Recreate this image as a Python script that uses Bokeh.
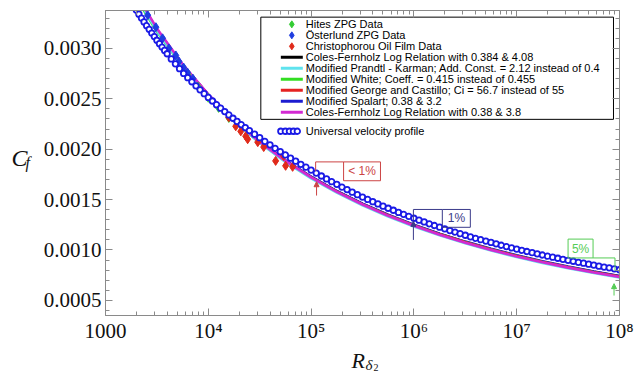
from bokeh.plotting import figure
from bokeh.layouts import row, column
from bokeh.models import (Range1d, FixedTicker, LogAxis, LinearAxis,
                          Label, Arrow, NormalHead, CustomJSTickFormatter, NumeralTickFormatter)
from bokeh.core.properties import value
from bokeh.embed import file_html
from bokeh.resources import INLINE

# ---------------- data ----------------
X_TICKS = [1000, 10000, 100000, 1000000, 10000000, 100000000]
X_TICK_LABELS = ["1000", "10\u2074", "10\u2075", "10\u2076", "10\u2077", "10\u2078"]
Y_TICKS = [0.0005, 0.0010, 0.0015, 0.0020, 0.0025, 0.0030]

# correlation curves, log10(R_delta2) and Cf
LINE_LOG_RE = [3.0, 3.25, 3.5, 3.75, 4.0, 4.25, 4.5, 4.75, 5.0, 5.25, 5.5, 5.75,
               6.0, 6.25, 6.5, 6.75, 7.0, 7.25, 7.5, 7.75, 8.0]
CF_COLES_384 = [0.004107, 0.003601, 0.003183, 0.002834, 0.002539, 0.002288, 0.002073, 0.001886,
                0.001724, 0.001582, 0.001456, 0.001345, 0.001246, 0.001158, 0.001079, 0.001008,
                0.000943, 0.000884, 0.000831, 0.000783, 0.000738]
CF_PRANDTL = [0.004110, 0.003598, 0.003176, 0.002825, 0.002529, 0.002277, 0.002061, 0.001874,
              0.001711, 0.001569, 0.001443, 0.001332, 0.001233, 0.001145, 0.001066, 0.000995,
              0.000930, 0.000872, 0.000819, 0.000771, 0.000727]
CF_WHITE = [0.004080, 0.003580, 0.003168, 0.002822, 0.002528, 0.002279, 0.002066, 0.001880,
            0.001719, 0.001578, 0.001453, 0.001342, 0.001243, 0.001155, 0.001076, 0.001005,
            0.000940, 0.000881, 0.000828, 0.000780, 0.000735]
CF_GEORGE = [0.004120, 0.003610, 0.003188, 0.002836, 0.002539, 0.002287, 0.002071, 0.001884,
             0.001721, 0.001579, 0.001453, 0.001342, 0.001243, 0.001155, 0.001076, 0.001005,
             0.000940, 0.000881, 0.000828, 0.000780, 0.000736]
CF_SPALART = [0.004100, 0.003598, 0.003182, 0.002834, 0.002540, 0.002289, 0.002075, 0.001889,
              0.001727, 0.001585, 0.001460, 0.001349, 0.001250, 0.001162, 0.001083, 0.001012,
              0.000947, 0.000888, 0.000835, 0.000787, 0.000742]
CF_COLES_38 = [0.004141, 0.003624, 0.003198, 0.002843, 0.002544, 0.002290, 0.002072, 0.001884,
               0.001720, 0.001577, 0.001451, 0.001339, 0.001240, 0.001152, 0.001072, 0.001001,
               0.000936, 0.000878, 0.000825, 0.000776, 0.000732]

# universal velocity profile (open circles)
UVP_LOG_RE = [3.200, 3.225, 3.250, 3.275, 3.300, 3.325, 3.350, 3.375, 3.400, 3.425, 3.450, 3.475,
              3.500, 3.525, 3.550, 3.575, 3.600,
              3.64, 3.68, 3.72, 3.76, 3.80, 3.84, 3.88, 3.92, 3.96, 4.00, 4.04, 4.08, 4.12, 4.16,
              4.20, 4.24, 4.28, 4.32, 4.36, 4.40,
              4.45, 4.50, 4.55, 4.60, 4.65, 4.70, 4.75, 4.80, 4.85, 4.90, 4.95,
              5.00, 5.05, 5.10, 5.15, 5.20, 5.25, 5.30, 5.35, 5.40, 5.45, 5.50, 5.55, 5.60, 5.65,
              5.70, 5.75, 5.80, 5.85, 5.90, 5.95,
              6.00, 6.05, 6.10, 6.15, 6.20, 6.25, 6.30, 6.35, 6.40, 6.45, 6.50, 6.55, 6.60, 6.65,
              6.70, 6.75, 6.80, 6.85, 6.90, 6.95,
              7.00, 7.05, 7.10, 7.15, 7.20, 7.25, 7.30, 7.35, 7.40, 7.45, 7.50, 7.55, 7.60, 7.65,
              7.70, 7.75, 7.80, 7.85, 7.90, 7.95, 8.00]
UVP_CF = [0.003546, 0.003503, 0.003462, 0.003420, 0.003380, 0.003340, 0.003301, 0.003263, 0.003225,
          0.003189, 0.003152, 0.003117, 0.003081, 0.003047, 0.003013, 0.002980, 0.002947,
          0.002896, 0.002847, 0.002799, 0.002752, 0.002710, 0.002669, 0.002629, 0.002589, 0.002551,
          0.002514, 0.002478, 0.002442, 0.002407, 0.002373, 0.002340, 0.002307, 0.002275, 0.002244,
          0.002214, 0.002185,
          0.002149, 0.002114, 0.002078, 0.002043, 0.002009, 0.001975, 0.001943, 0.001911, 0.001881,
          0.001850, 0.001822,
          0.001793, 0.001763, 0.001734, 0.001705, 0.001678, 0.001651, 0.001624, 0.001599, 0.001574,
          0.001549, 0.001525, 0.001502, 0.001479, 0.001457, 0.001435, 0.001414, 0.001394, 0.001373,
          0.001354, 0.001334,
          0.001315, 0.001296, 0.001278, 0.001260, 0.001243, 0.001226, 0.001210, 0.001193, 0.001178,
          0.001162, 0.001146, 0.001131, 0.001116, 0.001102, 0.001088, 0.001075, 0.001061, 0.001047,
          0.001034, 0.001021,
          0.001009, 0.000997, 0.000985, 0.000973, 0.000962, 0.000950, 0.000939, 0.000929, 0.000918,
          0.000907, 0.000897, 0.000888, 0.000878, 0.000869, 0.000859, 0.000850, 0.000839, 0.000830,
          0.000823, 0.000813, 0.000804]

# measurements
HITES_RE = [6310, 7940, 10000, 12590, 15850]
HITES_CF = [0.00274, 0.00262, 0.00251, 0.00241, 0.00231]
OST_RE = [2570, 3090, 3590, 4140, 4830, 5180, 5750, 6280, 7080]
OST_CF = [0.00333, 0.00321, 0.00310, 0.00300, 0.00293, 0.00287, 0.00281, 0.00276, 0.00270]
CHRIS_RE = [15810, 18490, 20700, 23120, 24150, 30270, 34590, 45190, 54080, 56490, 66070]
CHRIS_CF = [0.002316, 0.002227, 0.002177, 0.002129, 0.002099, 0.002070, 0.002021, 0.001884,
            0.001933, 0.001835, 0.001825]

LEGEND_LABELS = ["Hites ZPG Data", "\u00d6sterlund ZPG Data", "Christophorou Oil Film Data",
                 "Coles-Fernholz Log Relation with 0.384 & 4.08",
                 "Modified Prandtl - Karman; Add. Const. = 2.12 instead of 0.4",
                 "Modified White; Coeff. = 0.415 instead of 0.455",
                 "Modified George and Castillo; Ci = 56.7 instead of 55",
                 "Modified Spalart; 0.38 & 3.2",
                 "Coles-Fernholz Log Relation with 0.38 & 3.8"]

# ---------------- styles ----------------
GRAY = "#8a8a8a"
INK = "#111111"
C_BLACK, C_CYAN, C_GREEN = "black", "#5fe3ee", "#33dd22"
C_RED, C_BLUE, C_MAG = "#e52222", "#1c1cd0", "#d22ad2"
C_HITES, C_OST, C_CHRIS = "#33cc33", "#1f3de0", "#e02a1a"
C_UVP = "#1a1ae6"

# ---------------- main figure ----------------
p = figure(width=594, height=345, x_axis_type="log",
           x_range=Range1d(1000, 1e8), y_range=Range1d(0.00035, 0.003376),
           output_backend="svg", toolbar_location=None, title=None,
           min_border_left=64, min_border_right=15, min_border_top=10, min_border_bottom=27)
p.xgrid.visible = False
p.ygrid.visible = False
p.outline_line_color = GRAY
p.background_fill_color = "white"
p.border_fill_color = "white"

x_minor = [m * 10 ** e for e in range(3, 8) for m in range(2, 10)]
y_minor = [i / 10000 for i in range(4, 34)]
xt = FixedTicker(ticks=X_TICKS, minor_ticks=x_minor)
yt = FixedTicker(ticks=Y_TICKS, minor_ticks=y_minor)


def style_axis(ax):
    ax.axis_line_color = GRAY
    ax.major_tick_line_color = GRAY
    ax.minor_tick_line_color = GRAY
    ax.major_tick_in = 7
    ax.major_tick_out = 0
    ax.minor_tick_in = 4
    ax.minor_tick_out = 0
    ax.major_label_text_font = "Liberation Serif"
    ax.major_label_text_font_size = "21px"
    ax.major_label_text_color = INK


xa = p.xaxis[0]
xa.ticker = xt
style_axis(xa)
xa.major_label_overrides = dict(zip(X_TICKS, X_TICK_LABELS))
xa.major_label_standoff = 3

ya = p.yaxis[0]
ya.ticker = yt
ya.formatter = NumeralTickFormatter(format="0.0000")
style_axis(ya)
ya.major_label_standoff = 4

blank = CustomJSTickFormatter(code="return ''")
top_ax = LogAxis(ticker=xt, formatter=blank, major_label_standoff=0)
style_axis(top_ax)
p.add_layout(top_ax, "above")
right_ax = LinearAxis(ticker=yt, formatter=blank, major_label_standoff=0)
style_axis(right_ax)
p.add_layout(right_ax, "right")

# legend frame
p.quad(left=32430, right=8.74e7, top=0.003310, bottom=0.002296,
       fill_color="white", line_color="black", line_width=1)

line_re = [10 ** v for v in LINE_LOG_RE]
uvp_re = [10 ** v for v in UVP_LOG_RE]

LW = 2.6
p.line(line_re, CF_COLES_384, line_color=C_BLACK, line_width=LW)
p.line(line_re, CF_SPALART, line_color=C_BLUE, line_width=LW)
p.line(line_re, CF_WHITE, line_color=C_GREEN, line_width=LW)
p.line(line_re, CF_GEORGE, line_color=C_RED, line_width=LW)
p.line(line_re, CF_PRANDTL, line_color=C_CYAN, line_width=LW)
p.line(line_re, CF_COLES_38, line_color=C_MAG, line_width=LW)

p.scatter(HITES_RE, HITES_CF, marker="diamond", size=9, color=C_HITES)
p.scatter(OST_RE, OST_CF, marker="diamond", size=9, color=C_OST)
p.scatter(CHRIS_RE, CHRIS_CF, marker="diamond", size=9, color=C_CHRIS)

p.scatter(uvp_re, UVP_CF, marker="circle", size=5.5, fill_color="white",
          line_color=C_UVP, line_width=1.8)

# ---- legend (drawn by hand so that its rows match the original spacing) ----
LEG_ROW_Y = [0.0032387, 0.0031297, 0.0030206, 0.0029116, 0.0028025,
             0.0026935, 0.0025844, 0.0024753, 0.0023663]
LEG_GLYPH_X0, LEG_GLYPH_X1, LEG_MARK_X, LEG_TEXT_X = 50770, 83060, 64920, 88830
leg_kinds = [("diamond", C_HITES), ("diamond", C_OST), ("diamond", C_CHRIS),
             ("line", C_BLACK), ("line", C_CYAN), ("line", C_GREEN),
             ("line", C_RED), ("line", C_BLUE), ("line", C_MAG)]
for (kind, col), lab, yy in zip(leg_kinds, LEGEND_LABELS, LEG_ROW_Y):
    if kind == "line":
        p.line([LEG_GLYPH_X0, LEG_GLYPH_X1], [yy, yy], line_color=col, line_width=3)
    else:
        p.scatter([LEG_MARK_X], [yy], marker="diamond", size=7, color=col)
    p.add_layout(Label(x=LEG_TEXT_X, y=yy, text=lab, text_font="Liberation Sans",
                       text_font_size="11px", text_baseline="middle", text_color="black"))

# "Universal velocity profile" entry (outside the box)
p.scatter([50770, 56150, 61540, 67300, 73450, 80000][:5], [0.002178] * 5, marker="circle",
          size=5.5, fill_color="white", line_color=C_UVP, line_width=1.8)
p.add_layout(Label(x=LEG_TEXT_X, y=0.002178, text="Universal velocity profile",
                   text_font="Liberation Sans", text_font_size="11px",
                   text_baseline="middle", text_color="black"))


# percentage call-outs
def callout(xs_poly, ys_poly, box, text, tx, ty, arrow, color):
    p.line(xs_poly, ys_poly, line_color=color, line_width=1)
    l, r, t, b = box
    p.line([l, r, r, l, l], [t, t, b, b, t], line_color=color, line_width=1)
    p.add_layout(Label(x=tx, y=ty, text=text, text_font="Liberation Sans",
                       text_font_size="12px", text_color=color,
                       text_align="center", text_baseline="middle"))
    ax0, ay0, ax1, ay1 = arrow
    p.add_layout(Arrow(end=NormalHead(size=5, fill_color=color, line_color=color),
                       x_start=ax0, y_start=ay0, x_end=ax1, y_end=ay1,
                       line_color=color, line_width=1))


callout([1.107e5, 1.107e5, 2.07e5], [0.001785, 0.001874, 0.001874],
        (2.07e5, 4.73e5, 0.001874, 0.001687), "< 1%", 3.13e5, 0.00178,
        (1.13e5, 0.00154, 1.13e5, 0.001677), "#cc4444")
callout([9.89e5, 9.89e5, 1.89e6], [0.001294, 0.001402, 0.001402],
        (1.89e6, 3.54e6, 0.001402, 0.001225), "1%", 2.59e6, 0.001314,
        (9.89e5, 0.0011, 9.89e5, 0.001284), "#3a3a8a")
callout([5.53e7, 9.04e7, 9.04e7], [0.000921, 0.000921, 0.000793],
        (3.16e7, 5.53e7, 0.001108, 0.000921), "5%", 4.18e7, 0.001013,
        (8.85e7, 0.000548, 8.85e7, 0.000666), "#55cc55")


# ---------------- axis-title strips ----------------
def strip(w, h):
    f = figure(width=w, height=h, x_range=Range1d(0, w), y_range=Range1d(0, h),
               output_backend="svg", toolbar_location=None, title=None,
               x_axis_location=None, y_axis_location=None, min_border=0)
    f.xgrid.visible = False
    f.ygrid.visible = False
    f.outline_line_color = None
    f.border_fill_color = "white"
    return f


serif = value("Liberation Serif")
left = strip(40, 345)
left.text(x=[11], y=[178], text=["C"], text_font=serif, text_font_style=value("italic"),
          text_font_size="24px", text_color=INK, text_baseline="alphabetic")
left.text(x=[25], y=[173], text=["f"], text_font=serif, text_font_style=value("italic"),
          text_font_size="16px", text_color=INK, text_baseline="alphabetic")

bottom = strip(634, 30)
bottom.text(x=[351], y=[15], text=["R"], text_font=serif, text_font_style=value("italic"),
            text_font_size="22px", text_color=INK, text_baseline="alphabetic")
bottom.text(x=[365], y=[11], text=["\u03b4"], text_font=serif, text_font_style=value("italic"),
            text_font_size="15px", text_color=INK, text_baseline="alphabetic")
bottom.text(x=[373], y=[8], text=["2"], text_font=serif,
            text_font_size="10px", text_color=INK, text_baseline="alphabetic")

layout = column(row(left, p, spacing=0), bottom, spacing=0)

open("out.html", "w").write(file_html(layout, INLINE))
